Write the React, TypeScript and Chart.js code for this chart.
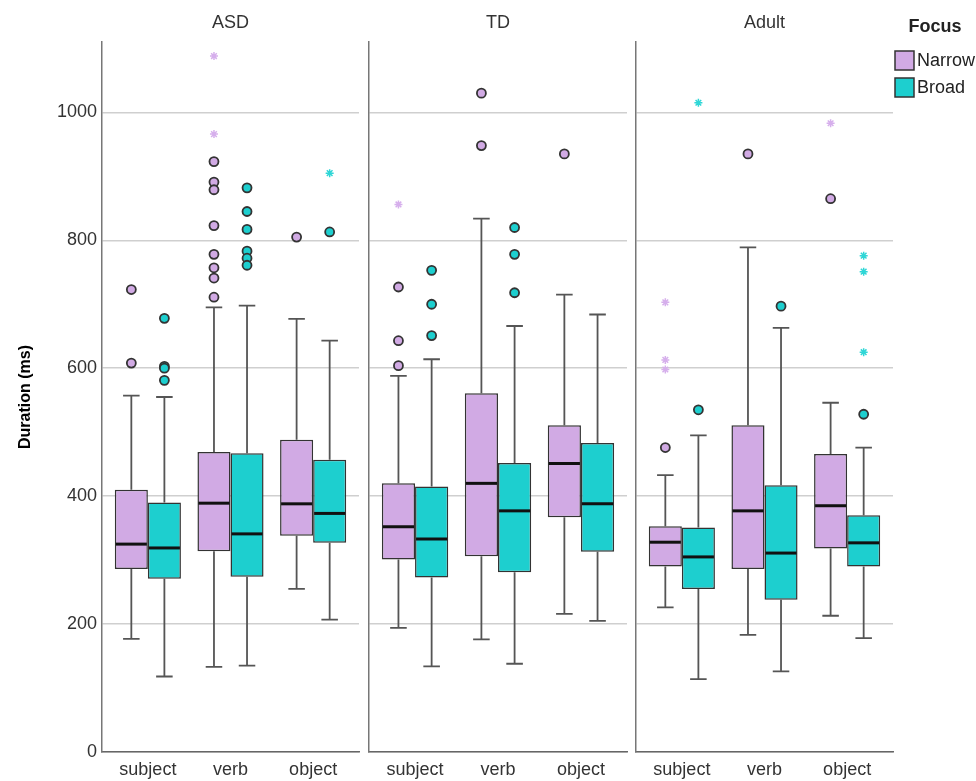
import React, { useEffect, useRef } from 'react';
import { Chart, registerables } from 'chart.js';

Chart.register(...registerables);

// ---------- data ----------
const panels = ['ASD', 'TD', 'Adult'];
const categories = ['subject', 'verb', 'object'];
const groups = ['Narrow', 'Broad'];
const yTicks = [0, 200, 400, 600, 800, 1000];
const yTitle = 'Duration (ms)';
const legendTitle = 'Focus';

// [lower whisker, Q1, median, Q3, upper whisker] for subject, verb, object
const asdNarrow = [[177, 286, 325, 410, 557], [133, 314, 389, 469, 695], [255, 338, 388, 488, 677]];
const asdBroad = [[118, 271, 319, 390, 555], [135, 274, 341, 467, 698], [207, 327, 373, 457, 643]];
const tdNarrow = [[194, 301, 352, 420, 588], [176, 306, 420, 561, 834], [216, 367, 451, 511, 715]];
const tdBroad = [[134, 273, 333, 415, 614], [138, 281, 377, 452, 666], [205, 313, 388, 483, 684]];
const adultNarrow = [[226, 290, 328, 353, 433], [183, 286, 377, 511, 789], [213, 318, 385, 466, 546]];
const adultBroad = [[114, 255, 305, 351, 495], [126, 238, 311, 417, 663], [178, 290, 327, 370, 476]];

// outliers (circles) per category
const asdNarrowOut = [[723, 608], [923, 891, 879, 823, 778, 757, 741, 711], [805]];
const asdBroadOut = [[678, 603, 600, 581], [882, 845, 817, 783, 772, 761], [813]];
const tdNarrowOut = [[727, 643, 604], [1030, 948], [935]];
const tdBroadOut = [[753, 700, 651], [820, 778, 718], []];
const adultNarrowOut = [[476], [935], [865]];
const adultBroadOut = [[535], [697], [528]];

// extreme values (stars) per category
const asdNarrowExt = [[], [1088, 966], []];
const asdBroadExt = [[], [], [905]];
const tdNarrowExt = [[856], [], []];
const tdBroadExt = [[], [], []];
const adultNarrowExt = [[703, 613, 598], [], [983]];
const adultBroadExt = [[1015], [], [776, 751, 625]];

const boxStats = [[asdNarrow, asdBroad], [tdNarrow, tdBroad], [adultNarrow, adultBroad]];
const outStats = [[asdNarrowOut, asdBroadOut], [tdNarrowOut, tdBroadOut], [adultNarrowOut, adultBroadOut]];
const extStats = [[asdNarrowExt, asdBroadExt], [tdNarrowExt, tdBroadExt], [adultNarrowExt, adultBroadExt]];

// ---------- styles ----------
const groupColors = ['#d1aae4', '#1dcfcf'];
const starColors = ['#d6afec', '#2fd6d6'];
const FONT = '"Liberation Sans", Arial, Helvetica, sans-serif';
const CAT_PCT = 0.8;
const X_MIN = -0.555;
const X_MAX = 2.555;
const Y_MAX = 1110;

const panelLayout = [
  { left: 0, width: 362, yWidth: 102, padRight: 3, showY: true, legend: false },
  { left: 362, width: 268, yWidth: 7, padRight: 3, showY: false, legend: false },
  { left: 630, width: 346, yWidth: 6, padRight: 83, showY: false, legend: true },
];

Chart.defaults.font.family = FONT;

const boxWhiskers = {
  id: 'boxWhiskers',
  beforeDatasetsDraw(chart: any) {
    const ctx = chart.ctx;
    const ys = chart.scales.y;
    ctx.save();
    ctx.strokeStyle = '#555';
    ctx.lineWidth = 1.8;
    chart.data.datasets.forEach((ds: any, di: number) => {
      if (!ds.stats) return;
      const meta = chart.getDatasetMeta(di);
      meta.data.forEach((bar: any, j: number) => {
        const s = ds.stats[j];
        const x = bar.x;
        const cap = bar.width / 4;
        const pLo = ys.getPixelForValue(s[0]);
        const pQ1 = ys.getPixelForValue(s[1]);
        const pQ3 = ys.getPixelForValue(s[3]);
        const pHi = ys.getPixelForValue(s[4]);
        ctx.beginPath();
        ctx.moveTo(x, pQ3); ctx.lineTo(x, pHi);
        ctx.moveTo(x - cap, pHi); ctx.lineTo(x + cap, pHi);
        ctx.moveTo(x, pQ1); ctx.lineTo(x, pLo);
        ctx.moveTo(x - cap, pLo); ctx.lineTo(x + cap, pLo);
        ctx.stroke();
      });
    });
    ctx.restore();
  },
  afterDatasetsDraw(chart: any) {
    const ctx = chart.ctx;
    const ys = chart.scales.y;
    ctx.save();
    ctx.strokeStyle = '#111';
    ctx.lineWidth = 3;
    chart.data.datasets.forEach((ds: any, di: number) => {
      if (!ds.stats) return;
      const meta = chart.getDatasetMeta(di);
      meta.data.forEach((bar: any, j: number) => {
        const s = ds.stats[j];
        const pm = ys.getPixelForValue(s[2]);
        ctx.beginPath();
        ctx.moveTo(bar.x - bar.width / 2 + 1, pm);
        ctx.lineTo(bar.x + bar.width / 2 - 1, pm);
        ctx.stroke();
      });
    });
    ctx.restore();
  },
};

const focusLegend = {
  id: 'focusLegend',
  afterDraw(chart: any, _args: any, opts: any) {
    if (!opts || !opts.display) return;
    const ctx = chart.ctx;
    const x0 = chart.chartArea.right;
    ctx.save();
    ctx.textBaseline = 'middle';
    ctx.fillStyle = '#222';
    ctx.font = `bold 18px ${FONT}`;
    ctx.textAlign = 'center';
    ctx.fillText(opts.title, x0 + 42, 27);
    ctx.font = `18px ${FONT}`;
    ctx.textAlign = 'left';
    chart.data.datasets.filter((d: any) => d.stats).forEach((d: any, i: number) => {
      const y = 51 + i * 27;
      ctx.fillStyle = d.backgroundColor;
      ctx.fillRect(x0 + 2, y, 19, 19);
      ctx.strokeStyle = '#333';
      ctx.lineWidth = 1.5;
      ctx.strokeRect(x0 + 2, y, 19, 19);
      ctx.fillStyle = '#222';
      ctx.fillText(d.label, x0 + 24, y + 10);
    });
    ctx.restore();
  },
};

function buildDatasets(p: number) {
  const ds: any[] = [];
  groups.forEach((g, gi) => {
    ds.push({
      type: 'bar',
      label: g,
      data: boxStats[p][gi].map((s, k) => ({ x: k, y: [s[1], s[3]] })),
      stats: boxStats[p][gi],
      backgroundColor: groupColors[gi],
      borderColor: '#333',
      borderWidth: 1.5,
      borderSkipped: false,
      categoryPercentage: CAT_PCT,
      barPercentage: 1,
      order: 2,
    });
  });
  groups.forEach((g, gi) => {
    const off = (gi - 0.5) * CAT_PCT / 2;
    ds.push({
      type: 'scatter',
      label: g + ' outliers',
      data: outStats[p][gi].flatMap((arr, k) => arr.map((v) => ({ x: k + off, y: v }))),
      pointStyle: 'circle',
      pointRadius: 4.5,
      backgroundColor: groupColors[gi],
      borderColor: '#333',
      borderWidth: 1.8,
      order: 0,
    });
    ds.push({
      type: 'scatter',
      label: g + ' extremes',
      data: extStats[p][gi].flatMap((arr, k) => arr.map((v) => ({ x: k + off, y: v }))),
      pointStyle: 'star',
      pointRadius: 4,
      backgroundColor: starColors[gi],
      borderColor: starColors[gi],
      borderWidth: 1.5,
      order: 0,
    });
  });
  return ds;
}

function Panel({ p }: { p: number }) {
  const ref = useRef<HTMLCanvasElement | null>(null);
  const L = panelLayout[p];
  useEffect(() => {
    if (!ref.current) return;
    const chart = new Chart(ref.current, {
      type: 'bar',
      data: { datasets: buildDatasets(p) },
      options: {
        responsive: false,
        animation: false,
        events: [],
        layout: { autoPadding: false, padding: { left: 0, right: L.padRight, top: 0, bottom: 0 } },
        plugins: {
          legend: { display: false },
          tooltip: { enabled: false },
          title: {
            display: true,
            text: panels[p],
            fullSize: false,
            color: '#333',
            font: { size: 18, weight: 'normal', family: FONT },
            padding: { top: 12, bottom: 8.4 },
          },
          focusLegend: { display: L.legend, title: legendTitle },
        },
        scales: {
          x: {
            type: 'linear',
            min: X_MIN,
            max: X_MAX,
            offset: false,
            bounds: 'data',
            grid: { display: false, offset: false, drawTicks: false },
            border: { display: true, color: '#666', width: 1.5 },
            ticks: {
              font: { size: 18, family: FONT },
              color: '#333',
              padding: 7,
              maxRotation: 0,
              autoSkip: false,
              callback: (v: any) => categories[v] ?? '',
            },
            afterBuildTicks: (s: any) => { s.ticks = categories.map((_, k) => ({ value: k })); },
            afterFit: (s: any) => { s.height = 29; s.paddingLeft = 0; s.paddingRight = 0; },
          },
          y: {
            type: 'linear',
            min: 0,
            max: Y_MAX,
            grid: { color: '#cfcfcf', lineWidth: 1.5, drawTicks: false },
            border: { display: true, color: '#777', width: 1.5 },
            ticks: {
              display: L.showY,
              font: { size: 18, family: FONT },
              color: '#333',
              padding: 5,
              callback: (v: any) => String(v),
            },
            afterBuildTicks: (s: any) => { s.ticks = yTicks.map((v) => ({ value: v })); },
            title: {
              display: L.showY,
              text: yTitle,
              color: '#000',
              font: { size: 16, weight: 'bold', family: FONT },
              padding: { top: 16, bottom: 0 },
            },
            afterFit: (s: any) => { s.width = L.yWidth; s.paddingTop = 0; s.paddingBottom = 0; },
          },
        },
      } as any,
      plugins: L.legend ? [boxWhiskers, focusLegend] : [boxWhiskers],
    });
    return () => chart.destroy();
  }, [p]);
  return (
    <canvas
      ref={ref}
      width={L.width}
      height={781}
      style={{ position: 'absolute', left: L.left, top: 0, width: L.width, height: 781 }}
    />
  );
}

export default function App() {
  return (
    <div style={{ position: 'fixed', left: 0, top: 0, width: 976, height: 781, background: '#fff', overflow: 'hidden' }}>
      {panels.map((_, p) => <Panel key={p} p={p} />)}
    </div>
  );
}
